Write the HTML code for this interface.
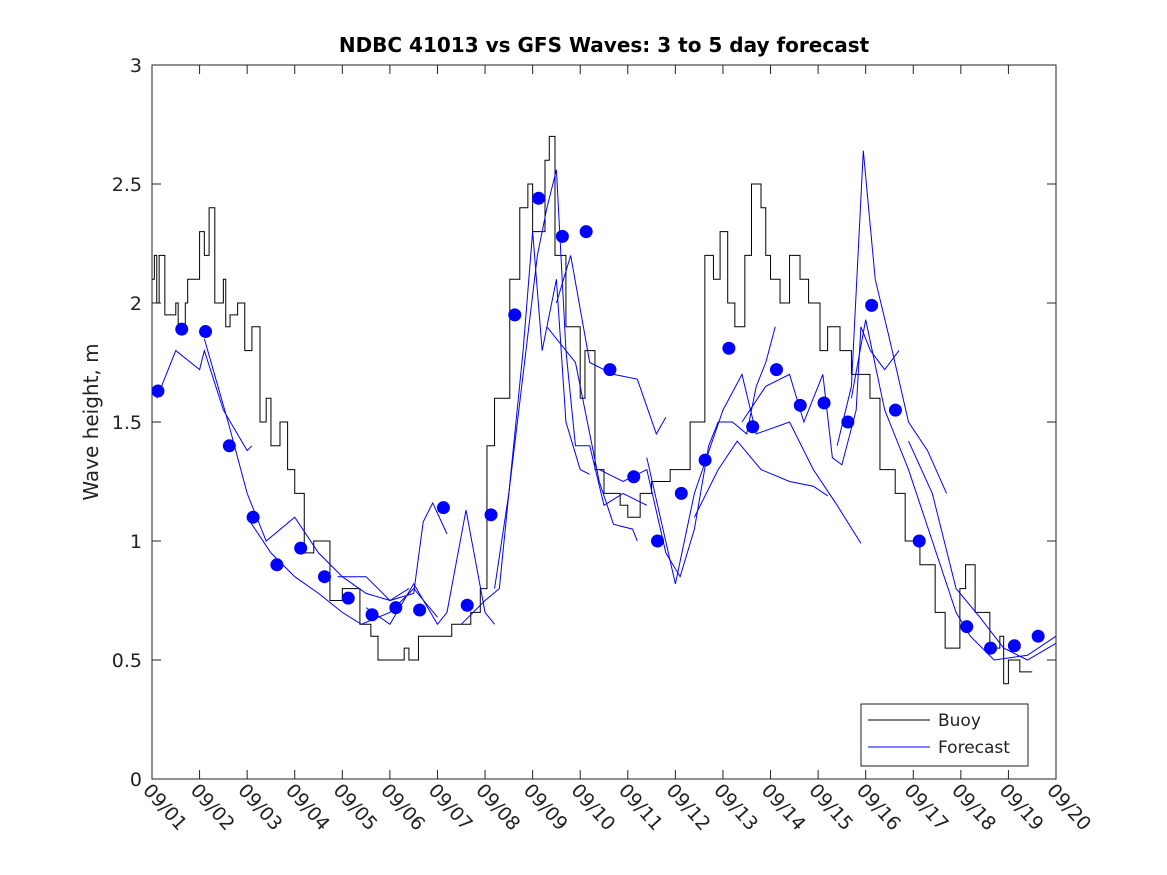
<!DOCTYPE html>
<html><head><meta charset="utf-8"><style>
html,body{margin:0;padding:0;background:#fff;}
svg{display:block;font-family:"DejaVu Sans","Liberation Sans",sans-serif;}
</style></head><body>
<svg id="chart" width="1167" height="875" viewBox="0 0 1167 875" xmlns="http://www.w3.org/2000/svg">
<rect width="1167" height="875" fill="#fff"/>
<text x="604" y="52" text-anchor="middle" font-size="20" font-weight="bold">NDBC 41013 vs GFS Waves: 3 to 5 day forecast</text>
<text transform="translate(98,422) rotate(-90)" text-anchor="middle" font-size="20" fill="#222">Wave height, m</text>
<g id="plot"></g>
<g>
<rect x="861" y="704" width="167" height="62" fill="#fff" stroke="#222" stroke-width="1"/>
<line x1="868" y1="720" x2="930" y2="720" stroke="#000" stroke-width="1"/>
<text x="938" y="726" font-size="17" fill="#222">Buoy</text>
<line x1="868" y1="747" x2="930" y2="747" stroke="#0000ff" stroke-width="1"/>
<text x="938" y="753" font-size="17" fill="#222">Forecast</text>
</g>
</svg>
<script>
const xLabels=["09/01","09/02","09/03","09/04","09/05","09/06","09/07","09/08","09/09","09/10","09/11","09/12","09/13","09/14","09/15","09/16","09/17","09/18","09/19","09/20"];
const yTicks=[0,0.5,1,1.5,2,2.5,3];
const yTickLabels=["0","0.5","1","1.5","2","2.5","3"];
const buoyDays=[0,0.05,0.1,0.15,0.27,0.5,0.55,0.7,0.75,1.0,1.1,1.2,1.32,1.5,1.55,1.64,1.8,1.95,2.1,2.27,2.4,2.5,2.69,2.85,3.0,3.2,3.4,3.74,4.0,4.37,4.6,4.75,5.3,5.4,5.6,5.84,6.3,6.7,6.9,7.04,7.2,7.52,7.73,7.9,8.0,8.26,8.35,8.47,8.7,9.0,9.1,9.31,9.5,9.84,10.0,10.26,10.5,10.89,11.31,11.62,11.8,11.94,12.1,12.25,12.46,12.6,12.8,12.9,13.0,13.2,13.4,13.62,13.8,14.04,14.2,14.46,14.7,15.09,15.3,15.62,15.83,16.14,16.46,16.67,16.98,17.1,17.3,17.61,17.82,17.9,18.0,18.24];
const buoyVals=[2.1,2.2,2.0,2.2,1.95,2.0,1.9,2.0,2.1,2.3,2.2,2.4,2.0,2.1,1.9,1.95,2.0,1.8,1.9,1.5,1.6,1.4,1.5,1.3,1.2,0.95,1.0,0.75,0.8,0.65,0.6,0.5,0.55,0.5,0.6,0.6,0.65,0.7,0.8,1.4,1.6,2.1,2.4,2.5,2.3,2.6,2.7,2.2,1.9,1.6,1.8,1.3,1.2,1.15,1.1,1.2,1.25,1.3,1.5,2.2,2.1,2.3,2.0,1.9,2.2,2.5,2.4,2.2,2.1,2.0,2.2,2.1,2.0,1.8,1.9,1.8,1.7,1.6,1.3,1.2,1.0,0.9,0.7,0.55,0.8,0.9,0.7,0.55,0.6,0.4,0.5,0.45];
const dotDays=[0.125,0.625,1.125,1.625,2.125,2.625,3.125,3.625,4.125,4.625,5.125,5.625,6.125,6.625,7.125,7.625,8.125,8.625,9.125,9.625,10.125,10.625,11.125,11.625,12.125,12.625,13.125,13.625,14.125,14.625,15.125,15.625,16.125,17.125,17.625,18.125,18.625];
const dotVals=[1.63,1.89,1.88,1.40,1.10,0.90,0.97,0.85,0.76,0.69,0.72,0.71,1.14,0.73,1.11,1.95,2.44,2.28,2.30,1.72,1.27,1.00,1.20,1.34,1.81,1.48,1.72,1.57,1.58,1.50,1.99,1.55,1.00,0.64,0.55,0.56,0.60];
const fcA=[[0.1,1.6],[0.5,1.8],[1.0,1.72],[1.1,1.8],[1.5,1.55],[2.0,1.38],[2.1,1.4]];
const fcB=[[1.1,1.85],[1.6,1.5],[2.0,1.2],[2.4,1.0],[3.0,1.1],[3.5,0.95],[4.0,0.85],[4.5,0.78],[5.0,0.75],[5.4,0.8]];
const fcC=[[2.0,1.1],[2.5,0.95],[3.0,0.85],[3.5,0.78],[4.0,0.7],[4.4,0.65],[5.0,0.7],[5.5,0.8],[6.0,0.68]];
const fcD=[[3.9,0.85],[4.5,0.85],[5.0,0.75],[5.5,0.78],[5.7,1.08],[5.9,1.16],[6.2,1.03]];
const fcE=[[4.5,0.72],[5.0,0.65],[5.5,0.82],[6.0,0.65],[6.2,0.7],[6.6,1.13],[7.0,0.7],[7.2,0.65]];
const fcF=[[6.5,0.65],[7.0,0.75],[7.3,0.8],[7.5,1.2],[7.8,1.8],[8.0,2.3],[8.2,1.8],[8.5,2.1],[8.7,1.5],[9.0,1.3],[9.2,1.28]];
const fcG=[[7.2,0.8],[7.5,1.2],[7.8,1.7],[8.1,2.2],[8.3,2.4],[8.5,2.56],[8.7,1.8],[8.9,1.4],[9.2,1.4],[9.5,1.15],[9.9,1.2],[10.4,1.15]];
const fcH=[[8.5,2.0],[8.8,2.2],[9.2,1.75],[9.7,1.7],[10.2,1.68],[10.6,1.45],[10.8,1.52]];
const fcI=[[8.3,1.9],[8.9,1.75],[9.4,1.25],[9.7,1.07],[10.1,1.05],[10.2,1.0]];
const fcJ=[[9.4,1.3],[9.9,1.25],[10.4,1.3],[10.8,0.95],[11.1,0.85],[11.4,1.05],[11.7,1.4],[11.9,1.5],[12.2,1.5],[12.5,1.45],[12.7,1.65],[12.9,1.75],[13.1,1.9]];
const fcK=[[10.4,1.35],[11.0,0.82],[11.4,1.2],[12.0,1.55],[12.4,1.7],[12.7,1.45],[13.4,1.5],[13.9,1.3],[14.4,1.15],[14.9,0.99]];
const fcL=[[11.4,1.1],[11.9,1.3],[12.3,1.42],[12.8,1.3],[13.4,1.25],[13.9,1.23],[14.2,1.19]];
const fcM=[[12.4,1.5],[12.9,1.65],[13.4,1.7],[13.7,1.5],[14.1,1.7],[14.3,1.35],[14.5,1.32],[14.8,1.55],[14.9,1.9],[15.1,1.8],[15.4,1.72],[15.7,1.8]];
const fcN=[[14.4,1.4],[14.7,1.65],[14.95,2.64],[15.2,2.1],[15.5,1.85],[15.9,1.5],[16.3,1.38],[16.7,1.2]];
const fcO=[[14.7,1.6],[15.0,1.93],[15.4,1.55],[15.9,1.3],[16.4,1.0],[16.9,0.7],[17.2,0.6],[17.7,0.5],[18.4,0.52],[19.0,0.6]];
const fcP=[[15.9,1.42],[16.4,1.2],[16.9,0.8],[17.4,0.68],[17.9,0.55],[18.4,0.5],[19.0,0.57]];
const forecasts=[fcA,fcB,fcC,fcD,fcE,fcF,fcG,fcH,fcI,fcJ,fcK,fcL,fcM,fcN,fcO,fcP];

const L=152,R=1056,T=65,B=779,NS="http://www.w3.org/2000/svg";
const xS=d=>L+(R-L)*d/19;
const yS=v=>B-(B-T)*v/3;
const g=document.getElementById('plot');
function mk(tag,attrs){const e=document.createElementNS(NS,tag);for(const k in attrs)e.setAttribute(k,attrs[k]);g.appendChild(e);return e;}

const box=mk('rect',{x:L,y:T,width:R-L,height:B-T,fill:'none',stroke:'#222','stroke-width':1});


yTicks.forEach((v,i)=>{
  const y=yS(v);
  mk('line',{x1:L,y1:y,x2:L+9,y2:y,stroke:'#222'});
  mk('line',{x1:R,y1:y,x2:R-9,y2:y,stroke:'#222'});
  const t=mk('text',{x:L-10,y:y+7,'text-anchor':'end','font-size':19,fill:'#222'});
  t.textContent=yTickLabels[i];
  
  
});
xLabels.forEach((lab,i)=>{
  const x=xS(i);
  mk('line',{x1:x,y1:B,x2:x,y2:B-9,stroke:'#222'});
  mk('line',{x1:x,y1:T,x2:x,y2:T+9,stroke:'#222'});
  const t=mk('text',{transform:`translate(${x-10},${B+12}) rotate(48)`,'font-size':19,fill:'#222'});
  t.textContent=lab;
  
  
});
let d='';
buoyDays.forEach((dd,i)=>{
  const x=xS(dd);
  if(i===0)d+=`M${x},${yS(buoyVals[0])}`;
  else d+=`L${x},${yS(buoyVals[i-1])}L${x},${yS(buoyVals[i])}`;
});
d+=`L${xS(18.5)},${yS(buoyVals[buoyVals.length-1])}`;
const bp=mk('path',{d:d,fill:'none',stroke:'#000','stroke-width':1});


forecasts.forEach(seg=>{
  const p=mk('polyline',{points:seg.map(q=>xS(q[0])+','+yS(q[1])).join(' '),fill:'none',stroke:'#0000ff','stroke-width':1});
  
  
});
dotDays.forEach((dd,i)=>{
  const c=mk('circle',{cx:xS(dd),cy:yS(dotVals[i]),r:6.5,fill:'#0000ff'});
  
  
});
</script>
</body></html>
